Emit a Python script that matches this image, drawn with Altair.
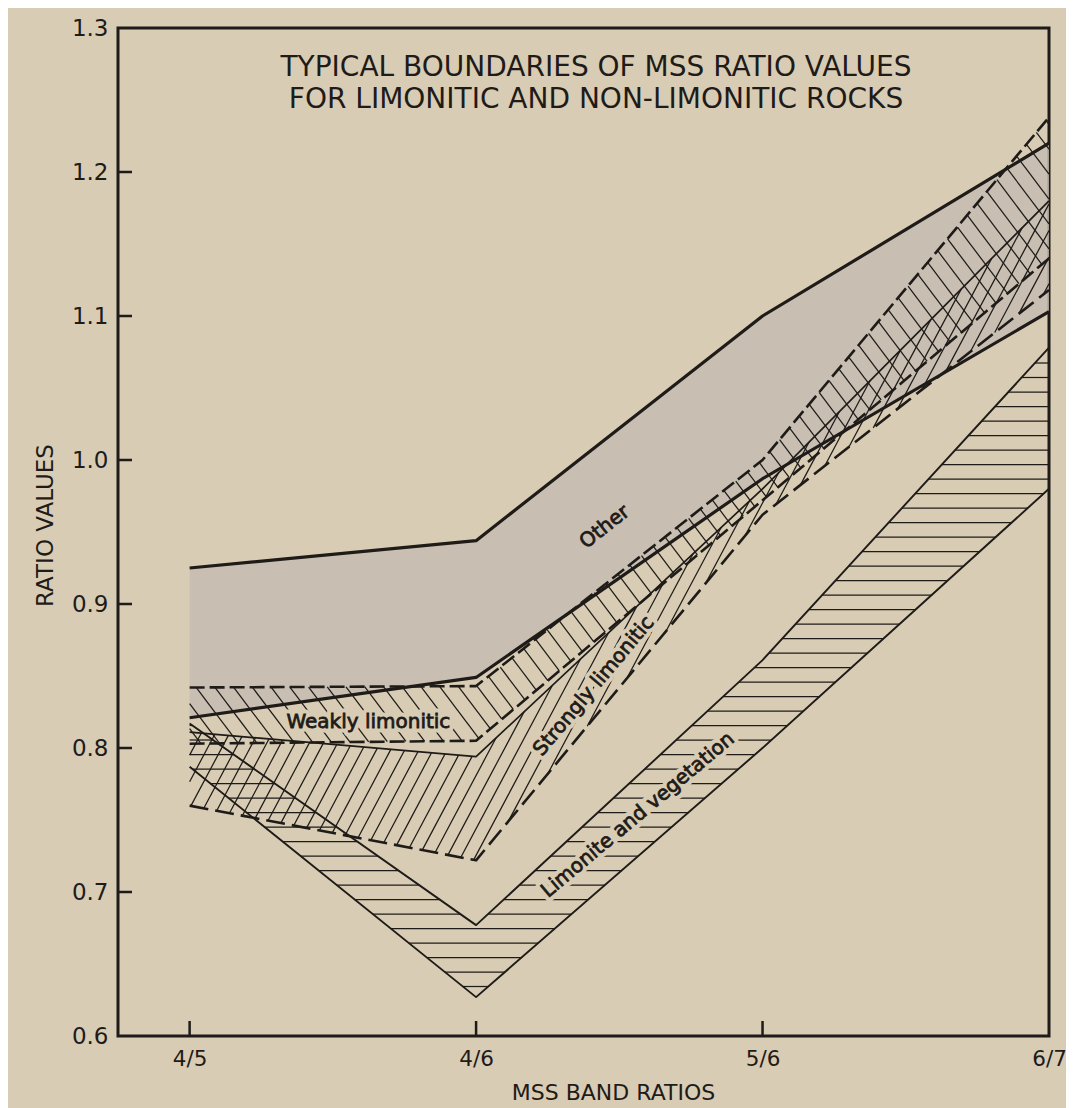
import altair as alt
import numpy as np
import pandas as pd

# ---------------- data ----------------
RATIOS = ["4/5", "4/6", "5/6", "6/7"]
RATIO_POS = [0, 1, 2, 3]
Y_TICKS = [0.6, 0.7, 0.8, 0.9, 1.0, 1.1, 1.2, 1.3]

OTHER_TOP = [0.925, 0.944, 1.100, 1.220]
OTHER_BOTTOM = [0.821, 0.849, 0.987, 1.103]
WEAK_TOP = [0.842, 0.843, 1.000, 1.238]
WEAK_BOTTOM = [0.803, 0.805, 0.972, 1.140]
STRONG_TOP = [0.811, 0.794, 0.980, 1.180]
STRONG_BOTTOM = [0.760, 0.722, 0.962, 1.118]
VEG_TOP = [0.817, 0.677, 0.861, 1.078]
VEG_BOTTOM = [0.787, 0.627, 0.800, 0.980]

LABEL_TEXT = ["Other", "Weakly limonitic", "Strongly limonitic", "Limonite and vegetation"]
LABEL_X = [1.449, 0.624, 1.411, 1.565]
LABEL_Y = [0.9535, 0.818, 0.843, 0.7535]
LABEL_ANGLE = [322, 0, 310, 320]
LABEL_HALO = [0, 1, 1, 1]

TITLE_LINES = ["TYPICAL BOUNDARIES OF MSS RATIO VALUES",
               "FOR LIMONITIC AND NON-LIMONITIC ROCKS"]

# ---------------- layout / style ----------------
W, H = 931, 1008
XDOM = [-0.25, 3.0]
YDOM = [0.6, 1.3]
PX = W / (XDOM[1] - XDOM[0])
PY = H / (YDOM[1] - YDOM[0])
BG = "#d9ccb4"
INK = "#1e1b18"
FONT = "DejaVu Sans"

label_expr = "[" + ",".join("'%s'" % r for r in RATIOS) + "][datum.value]"
x_scale = alt.Scale(domain=XDOM, nice=False, zero=False)
y_scale = alt.Scale(domain=YDOM, nice=False, zero=False)
x_axis = alt.Axis(values=RATIO_POS, labelExpr=label_expr, ticks=False, domain=False, grid=False,
                  labelFontSize=21.5, labelPadding=12, labelFlush=False, labelOverlap=False,
                  labelColor=INK, labelFont=FONT,
                  titleFontSize=22, titleFontWeight="normal", titleColor=INK, titleFont=FONT,
                  titleX=495, titleY=56, titleBaseline="middle", titleAlign="center")
y_axis = alt.Axis(values=Y_TICKS, format=".1f", ticks=False, domain=False, grid=False,
                  labelFontSize=23, labelPadding=10, labelFlush=False, labelOverlap=False,
                  labelColor=INK, labelFont=FONT,
                  titleFontSize=23, titleFontWeight="normal", titleColor=INK, titleFont=FONT,
                  titleX=-73, titleY=497, titleBaseline="middle", titleAlign="center")


def X(field="x"):
    return alt.X(f"{field}:Q", scale=x_scale, axis=x_axis, title="MSS BAND RATIOS")


def Y(field="v"):
    return alt.Y(f"{field}:Q", scale=y_scale, axis=y_axis, title="RATIO VALUES")


# ---------------- hatching computed from the band boundaries ----------------
GRID = np.linspace(0.0, 3.0, 6001)


def hatch(lo, hi, angle_deg, gap_px):
    lo_g = np.interp(GRID, RATIO_POS, lo)
    hi_g = np.interp(GRID, RATIO_POS, hi)
    th = np.radians(angle_deg)
    m = np.tan(th) * PX / PY
    dc = abs(gap_px / np.cos(th) / PY)
    cmin = (lo_g - m * GRID).min()
    cmax = (hi_g - m * GRID).max()
    rows = []
    for c in np.arange(np.floor(cmin / dc) * dc, cmax + dc, dc):
        v = c + m * GRID
        inside = (v >= lo_g) & (v <= hi_g)
        if not inside.any():
            continue
        d = np.diff(inside.astype(int))
        starts = list(np.where(d == 1)[0] + 1)
        ends = list(np.where(d == -1)[0])
        if inside[0]:
            starts = [0] + starts
        if inside[-1]:
            ends = ends + [len(GRID) - 1]
        for s, e in zip(starts, ends):
            if e > s:
                rows.append(dict(x=GRID[s], v=v[s], x2=GRID[e], v2=v[e]))
    return rows


hatch_rows = (hatch(VEG_BOTTOM, VEG_TOP, 0, 14.5)
              + hatch(STRONG_BOTTOM, STRONG_TOP, 62, 12.5)
              + hatch(WEAK_BOTTOM, WEAK_TOP, -53, 15.0))
hatch_df = pd.DataFrame(hatch_rows)

# ---------------- layers ----------------
other_df = pd.DataFrame({"x": RATIO_POS, "top": OTHER_TOP, "bottom": OTHER_BOTTOM})
other_area = alt.Chart(other_df).mark_area(color="#c3bcb1", opacity=0.8).encode(
    x=X(), y=Y("top"), y2=alt.Y2("bottom:Q"))

hatch_layer = alt.Chart(hatch_df).mark_rule(color=INK, strokeWidth=1.25).encode(
    x=X(), y=Y(), x2=alt.X2("x2:Q"), y2=alt.Y2("v2:Q"))


def boundary(values, width, dash=None):
    df = pd.DataFrame({"x": RATIO_POS, "v": values})
    kw = dict(color=INK, strokeWidth=width, strokeJoin="round", strokeCap="butt")
    if dash:
        kw["strokeDash"] = dash
    return alt.Chart(df).mark_line(**kw).encode(x=X(), y=Y())


lines = [
    boundary(OTHER_TOP, 3.2),
    boundary(OTHER_BOTTOM, 3.2),
    boundary(WEAK_TOP, 2.6, [15, 5]),
    boundary(WEAK_BOTTOM, 2.6, [15, 5]),
    boundary(STRONG_TOP, 1.7),
    boundary(STRONG_BOTTOM, 2.6, [19, 7]),
    boundary(VEG_TOP, 1.9),
    boundary(VEG_BOTTOM, 1.9),
]

# inward tick marks
ytk = [t for t in Y_TICKS if YDOM[0] < t < YDOM[1]]
ytick_df = pd.DataFrame({"x": [XDOM[0]] * len(ytk), "x2": [XDOM[0] + 14 / PX] * len(ytk),
                         "v": ytk, "v2": ytk})
xtk = RATIO_POS[:-1]
xtick_df = pd.DataFrame({"x": xtk, "x2": xtk, "v": [YDOM[0]] * len(xtk),
                         "v2": [YDOM[0] + 15 / PY] * len(xtk)})
ticks = [alt.Chart(d).mark_rule(color=INK, strokeWidth=2.5).encode(
    x=X(), y=Y(), x2=alt.X2("x2:Q"), y2=alt.Y2("v2:Q")) for d in (ytick_df, xtick_df)]

lab_df = pd.DataFrame({"label": LABEL_TEXT, "x": LABEL_X, "v": LABEL_Y,
                       "angle": LABEL_ANGLE, "halo": LABEL_HALO})
halo = alt.Chart(lab_df).transform_filter("datum.halo == 1").mark_text(
    fontSize=20, font=FONT, color=BG, stroke=BG, strokeWidth=9, strokeJoin="round",
    align="center", baseline="middle").encode(
    x=X(), y=Y(), text="label:N", angle=alt.Angle("angle:Q", scale=None))
labels = alt.Chart(lab_df).mark_text(
    fontSize=20, font=FONT, color=INK, stroke=INK, strokeWidth=0.8,
    align="center", baseline="middle").encode(
    x=X(), y=Y(), text="label:N", angle=alt.Angle("angle:Q", scale=None))

title_layers = []
for i, line in enumerate(TITLE_LINES):
    title_layers.append(
        alt.Chart(pd.DataFrame({"t": [line]})).mark_text(
            fontSize=28, font=FONT, color=INK, align="center", baseline="alphabetic"
        ).encode(text="t:N", x=alt.value(478), y=alt.value(48 + 32 * i)))

chart = alt.layer(other_area, hatch_layer, *lines, *ticks, halo, labels, *title_layers).properties(
    width=W, height=H, background=BG, autosize="none",
    padding={"left": 110, "top": 20, "right": 17, "bottom": 72},
).configure_view(stroke=INK, strokeWidth=3)

chart.save("out.html", embed_options={"renderer": "svg", "actions": False})
